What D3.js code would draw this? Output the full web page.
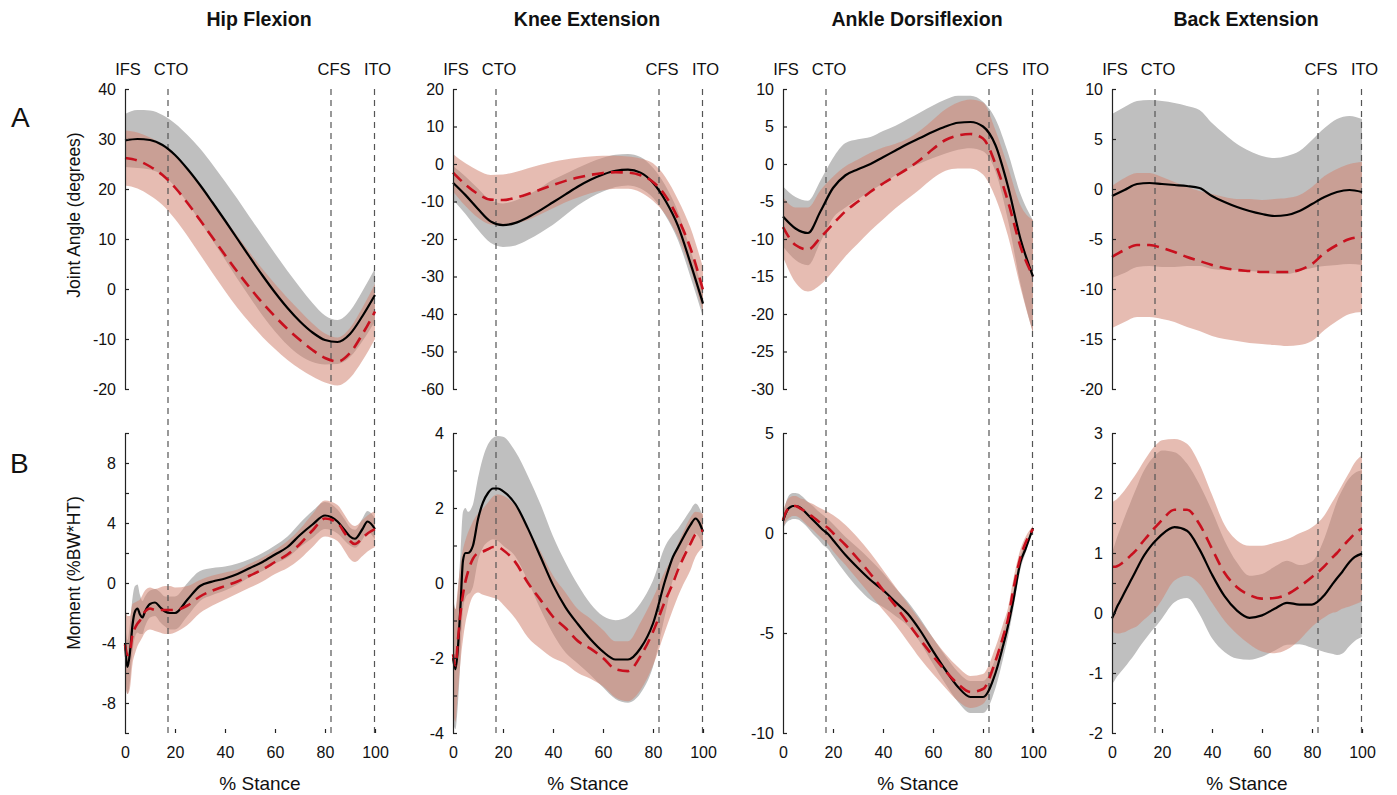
<!DOCTYPE html>
<meta charset="utf-8">
<style>
body { margin: 0; background: #fff; }
text { font-family: "Liberation Sans", Arial, Helvetica, sans-serif; fill: #111; }
.axis text { font-size: 16px; }
.axis path, .axis line { stroke: #222; stroke-width: 1.2px; }
.title { font-size: 19.5px; font-weight: bold; }
.event { font-size: 16.5px; }
.ylab { font-size: 17.5px; }
.xlab { font-size: 19px; }
.letter { font-size: 28px; }
</style>
<svg width="1397" height="795"></svg>
<script src="https://cdn.jsdelivr.net/npm/d3@7"></script>
<script>

// % stance samples
var pctA = [0,5,10,15,20,25,30,35,40,45,50,55,60,65,70,75,80,85,90,95,100];
var pctB = [0,1,2,3,4,5,6,7,8,10,12,14,16,18,20,25,30,35,40,45,50,55,60,65,70,75,80,85,88,90,92,95,97,100];

var titles = ["Hip Flexion", "Knee Extension", "Ankle Dorsiflexion", "Back Extension"];
var events = [{name: "IFS", at: 0}, {name: "CTO", at: 17.2}, {name: "CFS", at: 82.4}, {name: "ITO", at: 99.8}];

// joint angles (row A): mean and sd, group 1 = black, group 2 = red dashed
var hipAngM1 = [29.7,30,29.8,28.8,26.8,24,20.8,17.3,13.7,10,6.3,2.7,-0.7,-3.8,-6.5,-8.7,-10.2,-10.6,-9,-5.4,-1.2];
var hipAngS1 = [5.3,5.8,5.9,6,6.3,6.8,7.3,7.6,7.8,8,8,8,7.8,7.4,6.8,5.9,4.9,4.4,4.6,5,5.3];
var hipAngM2 = [26.2,25.7,24.5,22.8,20.3,17.2,13.8,10.3,6.8,3.4,0.2,-2.8,-5.5,-8,-10.2,-12.2,-13.8,-14.5,-12.8,-9,-4.5];
var hipAngS2 = [5.5,5.6,5.8,6,6.3,6.6,6.9,7.1,7.2,7.2,7,6.8,6.5,6.2,5.8,5.3,4.9,4.8,5,5.3,5.5];

var kneeAngM1 = [-5,-8.3,-12,-15.3,-16.3,-15.7,-14.2,-12.3,-10.2,-8.1,-6,-4.2,-2.8,-1.8,-1.5,-2.3,-5,-9.8,-16.5,-26.5,-37.2];
var kneeAngS1 = [4.5,5,5.5,5.7,5.8,6,6,6,6,5.5,5,4.7,4.5,4.3,4.2,4.2,4,4,3.8,3.6,3.5];
var kneeAngM2 = [-2.3,-5.5,-8,-9.5,-9.6,-9,-8,-6.8,-5.6,-4.5,-3.6,-2.9,-2.4,-2.2,-2.3,-3,-4.8,-8.5,-14.5,-22.5,-33.6];
var kneeAngS2 = [5,5.7,6.3,6.6,6.8,6.9,6.9,6.6,6.2,5.7,5.3,4.9,4.6,4.4,4.3,4.5,5,5,5,5.5,6];

var ankAngM1 = [-7,-8.6,-9.2,-6.3,-3.2,-1.5,-0.7,0,0.9,1.8,2.7,3.5,4.3,5,5.5,5.6,5,2.5,-3,-10,-15];
var ankAngS1 = [4,4.2,4.3,4.1,4,4.3,4,3.6,3.5,3.3,3.3,3.4,3.5,3.6,3.6,3.5,3.3,3.5,4.5,6,7.5];
var ankAngM2 = [-8.4,-10.8,-11.4,-9.8,-8,-6.3,-5,-3.7,-2.6,-1.6,-0.6,0.6,2,3.2,3.8,4,3.4,0,-5,-11,-15];
var ankAngS2 = [4,5,5.6,6.3,6.3,6,5.6,5.2,4.8,4.3,4,3.9,3.9,4.1,4.4,4.6,4.8,4.5,4.6,5.5,7.5];

var backAngM1 = [-0.7,-0.1,0.5,0.6,0.5,0.4,0.3,0.1,-0.7,-1.3,-1.8,-2.2,-2.5,-2.7,-2.6,-2.2,-1.5,-0.8,-0.3,-0.1,-0.3];
var backAngS1 = [8.2,8.3,8.3,8.3,8.3,8.2,8,7.8,7.3,6.8,6.3,6,5.8,5.8,5.9,6,6.4,6.9,7.3,7.4,7.3];
var backAngM2 = [-6.8,-6.1,-5.6,-5.6,-5.9,-6.3,-6.8,-7.2,-7.6,-7.9,-8.1,-8.2,-8.3,-8.3,-8.3,-8.1,-7.5,-6.4,-5.6,-5,-4.8];
var backAngS2 = [7.1,7.2,7.2,7.2,7.1,7,7,7,7.1,7.1,7.1,7.2,7.2,7.3,7.4,7.5,7.7,7.7,7.6,7.5,7.5];

// joint moments (row B)
var hipMomM1 = [-4,-5.6,-4.6,-2.8,-1.9,-1.7,-2.1,-2.3,-1.9,-1.4,-1.3,-1.6,-1.9,-2,-2,-1.1,-0.2,0.1,0.3,0.6,1,1.4,1.9,2.4,3.2,3.9,4.5,4.1,3.5,3.1,2.95,3.6,4.1,3.6];
var hipMomS1 = [1.6,1.8,1.9,1.8,1.7,1.6,1.3,1.1,1,0.9,0.9,1,1,1.1,1.1,1.1,1,0.9,0.8,0.7,0.6,0.6,0.6,0.7,0.8,0.9,0.9,0.8,0.7,0.6,0.6,0.7,0.7,0.7];
var hipMomM2 = [-4.1,-4.8,-4.6,-3.4,-3,-2.7,-2.5,-2.2,-1.9,-1.7,-1.8,-1.8,-1.8,-1.8,-1.8,-1.5,-0.9,-0.5,-0.2,0.1,0.5,0.9,1.4,1.9,2.6,3.5,4.3,4,3.3,2.8,2.6,3,3.3,3.6];
var hipMomS2 = [2.6,2.6,2.4,2,1.7,1.5,1.4,1.4,1.4,1.4,1.4,1.5,1.6,1.6,1.5,1.3,1.1,1,0.9,0.8,0.8,0.8,0.8,0.9,1,1.1,1.2,1.2,1.2,1.2,1.2,1.2,1.2,1.2];

var kneeMomM1 = [-2,-2.3,-1.7,-0.6,0.6,0.8,0.8,0.85,1,1.7,2.15,2.4,2.52,2.52,2.45,2.1,1.45,0.7,-0.05,-0.65,-1.1,-1.5,-1.83,-2.04,-2.04,-1.74,-1.08,0.1,0.7,0.95,1.2,1.55,1.72,1.37];
var kneeMomS1 = [1.7,1.6,1.5,1.4,1.3,1.2,1.1,1.1,1.1,1.1,1.2,1.3,1.35,1.4,1.45,1.4,1.4,1.4,1.3,1.2,1.05,0.95,0.95,1.05,1.15,1.2,1.15,0.9,0.6,0.5,0.45,0.4,0.4,0.4];
var kneeMomM2 = [-1.9,-2.2,-1.5,-0.8,-0.3,0.05,0.3,0.5,0.65,0.8,0.84,0.9,0.96,0.96,0.88,0.55,0,-0.45,-0.9,-1.2,-1.55,-1.75,-2,-2.3,-2.35,-1.95,-1.3,-0.45,0,0.35,0.65,1.05,1.3,1.4];
var kneeMomS2 = [1.5,1.5,1.4,1.3,1.2,1.1,1.05,1,1,1.05,1.15,1.25,1.35,1.4,1.45,1.5,1.45,1.3,1.1,0.95,0.85,0.8,0.75,0.75,0.8,0.9,0.9,0.8,0.7,0.7,0.7,0.7,0.6,0.45];

var ankMomM1 = [0.6,0.95,1.2,1.3,1.35,1.35,1.32,1.25,1.15,0.9,0.65,0.4,0.15,-0.05,-0.35,-1.1,-1.75,-2.35,-2.85,-3.45,-4.05,-4.9,-5.9,-6.85,-7.7,-8.2,-8.2,-7,-5.65,-4.65,-3.45,-1.45,-0.8,0.25];
var ankMomS1 = [0.4,0.5,0.6,0.65,0.65,0.65,0.65,0.65,0.65,0.65,0.7,0.7,0.75,0.75,0.8,0.9,1,1,0.85,0.7,0.6,0.6,0.65,0.7,0.75,0.8,0.8,0.75,0.65,0.55,0.45,0.35,0.2,0.1];
var ankMomM2 = [0.65,1,1.2,1.3,1.35,1.35,1.3,1.22,1.15,0.95,0.8,0.6,0.42,0.25,0,-0.6,-1.3,-2.05,-2.85,-3.65,-4.5,-5.35,-6.15,-6.9,-7.55,-7.95,-7.8,-6.4,-5.2,-4.3,-2.9,-1.2,-0.5,0.2];
var ankMomS2 = [0.4,0.45,0.5,0.5,0.5,0.5,0.5,0.5,0.55,0.6,0.65,0.7,0.75,0.8,0.9,1,1.05,1.05,1,0.95,0.95,0.95,0.9,0.85,0.85,0.8,0.75,0.7,0.65,0.55,0.5,0.4,0.3,0.15];

var backMomM1 = [-0.09,0,0.1,0.18,0.26,0.34,0.42,0.5,0.58,0.74,0.9,1.03,1.14,1.23,1.31,1.43,1.37,1.06,0.64,0.28,0.04,-0.08,-0.04,0.07,0.17,0.14,0.14,0.3,0.47,0.58,0.68,0.85,0.93,0.99];
var backMomS1 = [1.1,1.13,1.16,1.19,1.22,1.25,1.28,1.3,1.33,1.37,1.41,1.43,1.43,1.43,1.4,1.25,1.12,1.08,1.06,0.93,0.8,0.7,0.69,0.7,0.7,0.66,0.72,0.95,1.15,1.28,1.36,1.4,1.4,1.39];
var backMomM2 = [0.77,0.77,0.78,0.8,0.83,0.86,0.9,0.94,0.98,1.06,1.17,1.27,1.37,1.46,1.55,1.72,1.72,1.48,1.07,0.67,0.43,0.3,0.24,0.25,0.31,0.44,0.6,0.78,0.92,1,1.1,1.23,1.32,1.41];
var backMomS2 = [1.08,1.1,1.12,1.14,1.16,1.18,1.2,1.22,1.24,1.28,1.31,1.34,1.36,1.36,1.33,1.18,1.1,1,0.9,0.8,0.78,0.82,0.88,0.92,0.92,0.89,0.83,0.85,0.92,0.98,1.03,1.12,1.18,1.22];

// y-axis domains, ticks and labelled ticks
var angDomains = [[-20,40],[-60,20],[-30,10],[-20,10]];
var angTicks = [d3.range(-20,41,10), d3.range(-60,21,10), d3.range(-30,11,5), d3.range(-20,11,5)];
var momDomains = [[-10,10],[-4,4],[-10,5],[-2,3]];
var momTicks = [d3.range(-10,11,2), d3.range(-4,5,1), [-10,-5,0,5], d3.range(-2,3.01,0.5)];
var momLabels = [[-8,-4,0,4,8], [-4,-2,0,2,4], [-10,-5,0,5], [-2,-1,0,1,2,3]];

var angData = [
  [hipAngM1, hipAngS1, hipAngM2, hipAngS2],
  [kneeAngM1, kneeAngS1, kneeAngM2, kneeAngS2],
  [ankAngM1, ankAngS1, ankAngM2, ankAngS2],
  [backAngM1, backAngS1, backAngM2, backAngS2]
];
var momData = [
  [hipMomM1, hipMomS1, hipMomM2, hipMomS2],
  [kneeMomM1, kneeMomS1, kneeMomM2, kneeMomS2],
  [ankMomM1, ankMomS1, ankMomM2, ankMomS2],
  [backMomM1, backMomS1, backMomM2, backMomS2]
];

var svg = d3.select("svg");
var colX = [125, 453, 783, 1112], plotW = 250;
var rowY = [[89, 389], [433, 733]];

var panels = [];
for (var c = 0; c < 4; c++) {
  panels.push({col: c, row: 0, dom: angDomains[c], ticks: angTicks[c], labels: angTicks[c], d: angData[c], pct: pctA});
  panels.push({col: c, row: 1, dom: momDomains[c], ticks: momTicks[c], labels: momLabels[c], d: momData[c], pct: pctB});
}

var gBands = svg.append("g"), gEvents = svg.append("g"), gLines = svg.append("g"), gAxes = svg.append("g");

panels.forEach(function(p) {
  var x = d3.scaleLinear().domain([0, 100]).range([colX[p.col], colX[p.col] + plotW]);
  var y = d3.scaleLinear().domain(p.dom).range([rowY[p.row][1], rowY[p.row][0]]);
  p.x = x; p.y = y;
  var idx = d3.range(p.pct.length);

  var band = function(m, s) {
    return d3.area().curve(d3.curveMonotoneX)
      .x(function(i) { return x(p.pct[i]); })
      .y0(function(i) { return y(m[i] - s[i]); })
      .y1(function(i) { return y(m[i] + s[i]); })(idx);
  };
  var line = function(m) {
    return d3.line().curve(d3.curveMonotoneX)
      .x(function(i) { return x(p.pct[i]); })
      .y(function(i) { return y(m[i]); })(idx);
  };

  gBands.append("path").attr("d", band(p.d[0], p.d[1])).attr("fill", "#bfbfbf");
  gBands.append("path").attr("d", band(p.d[2], p.d[3])).attr("fill", "rgb(210,133,115)").attr("fill-opacity", 0.55);

  gLines.append("path").attr("d", line(p.d[0])).attr("fill", "none")
    .attr("stroke", "#000").attr("stroke-width", 2.2);
  gLines.append("path").attr("d", line(p.d[2])).attr("fill", "none")
    .attr("stroke", "#c8101e").attr("stroke-width", 2.6).attr("stroke-dasharray", "12,7");

  var yAxis = d3.axisLeft(y).tickValues(p.ticks).tickSize(-4).tickSizeOuter(0).tickPadding(9)
    .tickFormat(function(d) { return p.labels.indexOf(d) >= 0 ? String(d) : ""; });
  gAxes.append("g").attr("class", "axis").attr("transform", "translate(" + colX[p.col] + ",0)").call(yAxis);

  if (p.row === 1) {
    var xAxis = d3.axisBottom(x).tickValues([0,20,40,60,80,100]).tickSize(-4).tickSizeOuter(0).tickPadding(14)
      .tickFormat(function(d) { return String(d); });
    var gx = gAxes.append("g").attr("class", "axis").attr("transform", "translate(0," + rowY[1][1] + ")").call(xAxis);
    gx.select(".domain").remove();
    gx.selectAll(".tick").filter(function(d) { return d === 0; }).select("line").remove();
  }
});

// gait event lines run through both rows
panels.filter(function(p) { return p.row === 0; }).forEach(function(p) {
  events.forEach(function(e) {
    if (e.at > 0) {
      gEvents.append("line")
        .attr("x1", p.x(e.at)).attr("x2", p.x(e.at))
        .attr("y1", rowY[0][0]).attr("y2", rowY[1][1] + 2)
        .attr("stroke", "#555").attr("stroke-width", 1.2).attr("stroke-dasharray", "6,5");
    }
    svg.append("text").attr("class", "event")
      .attr("x", p.x(e.at) + 3).attr("y", 75)
      .attr("text-anchor", "middle").text(e.name);
  });
  svg.append("text").attr("class", "title")
    .attr("x", colX[p.col] + 134).attr("y", 26)
    .attr("text-anchor", "middle").text(titles[p.col]);
  svg.append("text").attr("class", "xlab")
    .attr("x", colX[p.col] + 135).attr("y", 790)
    .attr("text-anchor", "middle").text("% Stance");
});

svg.append("text").attr("class", "ylab")
  .attr("transform", "translate(80,215) rotate(-90)")
  .attr("text-anchor", "middle").text("Joint Angle (degrees)");
svg.append("text").attr("class", "ylab")
  .attr("transform", "translate(80,573) rotate(-90)")
  .attr("text-anchor", "middle").text("Moment (%BW*HT)");

svg.append("text").attr("class", "letter").attr("x", 11).attr("y", 127).text("A");
svg.append("text").attr("class", "letter").attr("x", 10).attr("y", 473).text("B");

</script>
